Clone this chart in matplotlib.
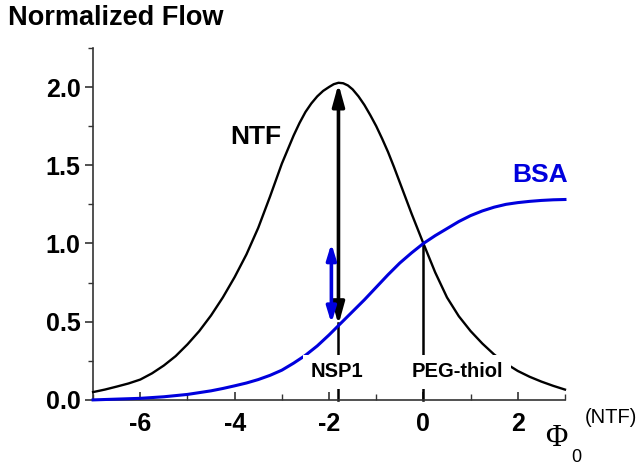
import matplotlib
matplotlib.use("Agg")
import matplotlib.pyplot as plt
from matplotlib.ticker import MultipleLocator, FormatStrFormatter

plt.rcParams["font.family"] = ["Liberation Sans", "DejaVu Sans"]
plt.rcParams["axes.unicode_minus"] = False

# NTF flow curve
ntf_x = [-7.0, -6.75, -6.5, -6.25, -6.0, -5.75, -5.5, -5.25, -5.0, -4.75,
         -4.5, -4.25, -4.0, -3.75, -3.5, -3.25, -3.0, -2.875, -2.75, -2.625,
         -2.5, -2.375, -2.25, -2.125, -2.0, -1.9, -1.8, -1.7, -1.6, -1.5,
         -1.375, -1.25, -1.125, -1.0, -0.875, -0.75, -0.625, -0.5, -0.25, 0.0,
         0.25, 0.5, 0.75, 1.0, 1.25, 1.5, 1.75, 2.0, 2.25, 2.5, 2.75, 3.0]
ntf_y = [0.05, 0.066, 0.085, 0.105, 0.13, 0.17, 0.22, 0.28, 0.355, 0.44,
         0.54, 0.655, 0.785, 0.93, 1.10, 1.30, 1.51, 1.60, 1.69, 1.77,
         1.84, 1.895, 1.94, 1.975, 2.00, 2.018, 2.027, 2.024, 2.01, 1.985,
         1.94, 1.885, 1.82, 1.75, 1.67, 1.585, 1.49, 1.39, 1.19, 1.00,
         0.815, 0.655, 0.535, 0.44, 0.36, 0.29, 0.232, 0.185, 0.148, 0.117, 0.09, 0.066]

# BSA flow curve
bsa_x = [-7.0, -6.5, -6.0, -5.5, -5.0, -4.5, -4.25, -4.0, -3.75, -3.5,
         -3.25, -3.0, -2.75, -2.5, -2.25, -2.0, -1.75, -1.5, -1.25, -1.0,
         -0.75, -0.5, -0.25, 0.0, 0.25, 0.5, 0.75, 1.0, 1.25, 1.5,
         1.75, 2.0, 2.25, 2.5, 2.75, 3.0]
bsa_y = [0.0, 0.005, 0.01, 0.02, 0.035, 0.058, 0.073, 0.09, 0.108, 0.13,
         0.157, 0.19, 0.235, 0.285, 0.345, 0.415, 0.49, 0.565, 0.64, 0.72,
         0.80, 0.875, 0.94, 1.00, 1.05, 1.095, 1.14, 1.178, 1.208, 1.232,
         1.25, 1.261, 1.269, 1.275, 1.279, 1.281]

# marker lines (NSP1, PEG-thiol): x position and curve value where they stop
marker_x = [-1.8, 0.0]
marker_top = [0.49, 1.00]
marker_labels = ["NSP1", "PEG-thiol"]
marker_label_x = [-1.83, 0.72]
marker_label_y = 0.18

# double arrows: (x, bottom, top)
ntf_arrow = (-1.8, 0.48, 2.02)
bsa_arrow = (-1.95, 0.49, 1.0)

BLUE = "#0000dd"

fig = plt.figure(figsize=(6.42, 4.65), dpi=100)
ax = fig.add_axes([0.145, 0.140, 0.735, 0.757])

ax.plot(ntf_x, ntf_y, color="black", lw=1.7, zorder=3, clip_on=False,
        solid_joinstyle="round")
ax.plot(bsa_x, bsa_y, color=BLUE, lw=2.2, zorder=3, clip_on=False,
        solid_joinstyle="round")

for mx, mt in zip(marker_x, marker_top):
    ax.plot([mx, mx], [0, mt], color="black", lw=1.8, zorder=2, clip_on=False)

for lab, lx in zip(marker_labels, marker_label_x):
    ax.text(lx, marker_label_y, lab, ha="center", va="center",
            fontsize=14.5, fontweight="bold", zorder=6,
            bbox=dict(boxstyle="square,pad=0.38", fc="white", ec="none"))

ax.annotate("", xy=(ntf_arrow[0], ntf_arrow[2]), xytext=(ntf_arrow[0], ntf_arrow[1]),
            arrowprops=dict(arrowstyle="<|-|>,head_length=0.65,head_width=0.18",
                            lw=2.6, color="black", mutation_scale=20,
                            shrinkA=0, shrinkB=0), zorder=4)
ax.annotate("", xy=(bsa_arrow[0], bsa_arrow[2]), xytext=(bsa_arrow[0], bsa_arrow[1]),
            arrowprops=dict(arrowstyle="<|-|>,head_length=0.62,head_width=0.19",
                            lw=2.6, color=BLUE, mutation_scale=15,
                            shrinkA=0, shrinkB=0), zorder=4)

ax.text(-3.55, 1.68, "NTF", ha="center", va="center", fontsize=19,
        fontweight="bold", color="black")
ax.text(2.47, 1.44, "BSA", ha="center", va="center", fontsize=19,
        fontweight="bold", color=BLUE)

ax.set_xlim(-7, 3)
ax.set_ylim(0, 2.25)
ax.spines["top"].set_visible(False)
ax.spines["right"].set_visible(False)
for s in ("left", "bottom"):
    ax.spines[s].set_color("#333333")
    ax.spines[s].set_linewidth(1.2)

ax.xaxis.set_major_locator(MultipleLocator(2))
ax.xaxis.set_minor_locator(MultipleLocator(1))
ax.yaxis.set_major_locator(MultipleLocator(0.5))
ax.yaxis.set_minor_locator(MultipleLocator(0.25))
ax.yaxis.set_major_formatter(FormatStrFormatter("%.1f"))

ax.tick_params(axis="x", which="major", direction="in", length=6, width=1.2,
               color="#333333", pad=9, labelsize=18)
ax.tick_params(axis="x", which="minor", direction="in", length=4, width=1.0,
               color="#333333")
ax.tick_params(axis="y", which="major", direction="out", length=6, width=1.2,
               color="#333333", pad=3, labelsize=18)
ax.tick_params(axis="y", which="minor", direction="out", length=3.5, width=1.0,
               color="#333333")
for t in ax.get_xticklabels() + ax.get_yticklabels():
    t.set_fontweight("bold")

fig.text(0.012, 0.961, "Normalized Flow", ha="left", va="center",
         fontsize=19.5, fontweight="bold")

# x axis label: Phi_0^(NTF)
fig.text(0.867, 0.058, "\u03a6", ha="center", va="center", fontsize=22,
         family=["Liberation Serif", "DejaVu Serif"])
fig.text(0.897, 0.016, "0", ha="center", va="center", fontsize=13)
fig.text(0.952, 0.103, "(NTF)", ha="center", va="center", fontsize=14.5)

fig.savefig("out.png", dpi=100)
